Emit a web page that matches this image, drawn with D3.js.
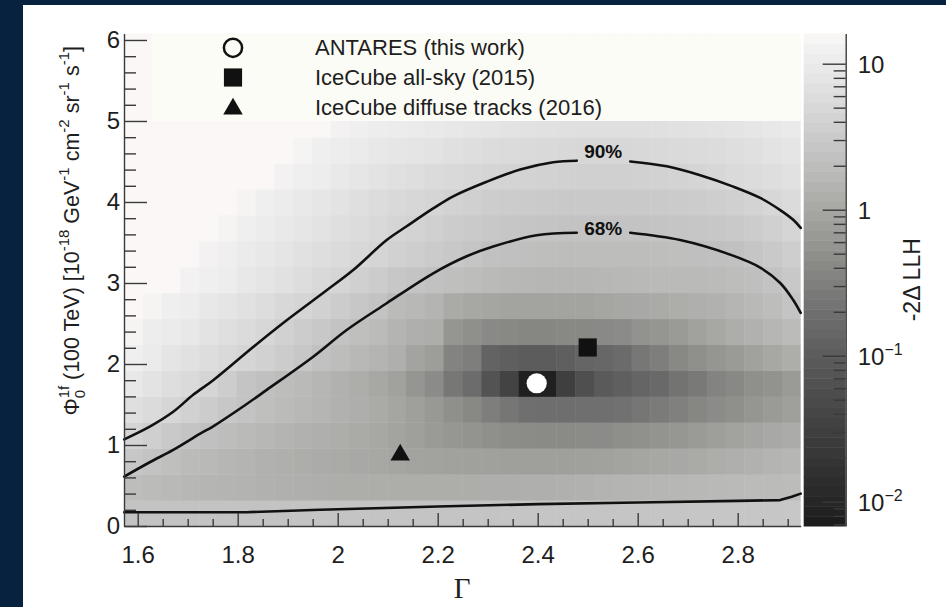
<!DOCTYPE html>
<html>
<head>
<meta charset="utf-8">
<script src="https://cdn.jsdelivr.net/npm/d3@7"></script>
<style>
  body { margin: 0; background: #06223f; }
  svg { display: block; }
</style>
</head>
<body>
<div id="chart"></div>
<script>
// -2ΔLLH scan over spectral index (Γ) and flux normalisation at 100 TeV

const GAMMA_RANGE = [1.5726, 2.926]
const FLUX_RANGE = [0, 6.08]
const GAMMA_BINS = 36
const FLUX_BIN = 0.32

// one row per flux bin (bottom row first), one value per Γ bin
const LLH = [
  [2.4,2.4,2.4,2.4,2.4,2.4,2.4,2.45,2.45,2.45,2.5,2.5,2.5,2.5,2.5,2.5,2.55,2.55,2.55,2.55,2.6,2.6,2.6,2.6,2.6,2.6,2.65,2.65,2.65,2.65,2.7,2.7,2.7,2.75,2.75,2.8],
  [2.0,1.85,1.75,1.65,1.55,1.5,1.45,1.4,1.35,1.3,1.25,1.2,1.2,1.2,1.2,1.2,1.2,1.2,1.2,1.25,1.25,1.3,1.3,1.35,1.4,1.45,1.5,1.55,1.6,1.65,1.7,1.75,1.8,1.85,1.9,1.95],
  [2.8,2.4,2.1,1.9,1.75,1.6,1.5,1.4,1.3,1.2,1.15,1.1,1.05,1.0,0.95,0.9,0.88,0.85,0.83,0.82,0.8,0.8,0.8,0.8,0.82,0.85,0.9,0.95,1.0,1.05,1.1,1.2,1.3,1.4,1.5,1.6],
  [4.4,3.7,3.0,2.5,2.2,2.0,1.8,1.65,1.5,1.4,1.3,1.2,1.1,1.0,0.9,0.8,0.7,0.62,0.56,0.5,0.46,0.44,0.43,0.43,0.44,0.45,0.48,0.52,0.57,0.62,0.7,0.78,0.86,0.95,1.05,1.15],
  [6.5,5.5,4.7,4.0,3.4,2.8,2.4,2.1,1.9,1.7,1.55,1.4,1.25,1.1,0.95,0.8,0.65,0.5,0.4,0.3,0.24,0.2,0.19,0.19,0.2,0.2,0.21,0.24,0.28,0.32,0.38,0.45,0.5,0.6,0.7,0.8],
  [9,7.5,6.2,5.3,4.6,3.5,2.5,2.2,2.0,1.8,1.6,1.4,1.2,1.0,0.85,0.6,0.45,0.25,0.18,0.07,0.035,0.008,0.008,0.03,0.06,0.09,0.11,0.14,0.16,0.22,0.26,0.35,0.4,0.5,0.55,0.7],
  [12,10,8,7,6,5.2,4.6,4.0,3.4,2.8,2.3,2.0,1.7,1.5,1.3,0.9,0.75,0.35,0.3,0.13,0.11,0.1,0.1,0.11,0.14,0.15,0.17,0.25,0.3,0.4,0.5,0.6,0.7,0.85,1.0,1.2],
  [14,11,10,9,7.5,6.5,5.5,4.8,4.0,3.4,2.9,2.4,2.1,1.9,1.5,1.3,1.2,0.6,0.5,0.42,0.4,0.38,0.38,0.4,0.4,0.42,0.45,0.55,0.6,0.7,0.85,1.0,1.2,1.4,1.6,1.9],
  [16,14,12,11,9,8,7,6,5,4.5,4,3.3,2.8,2.4,1.9,1.7,1.5,1.1,1.0,0.95,0.9,0.9,0.9,0.9,0.9,0.95,1.0,1.05,1.1,1.2,1.3,1.4,1.55,1.75,2.0,2.5],
  [20,18,16,13,12,11,9,8,7,6,5.2,4.5,3.8,3.3,2.8,2.5,2.3,2.1,2.0,1.8,1.7,1.65,1.6,1.6,1.6,1.65,1.7,1.75,1.8,1.8,1.8,1.9,2.0,2.15,2.4,2.9],
  [20,20,18,16,13,12,10,9,8,7,6.2,5.5,5.0,4.6,4.0,3.6,3.2,2.9,2.6,2.3,2.2,2.1,2.05,2.0,2.0,2.0,2.0,2.0,2.05,2.1,2.15,2.2,2.3,2.6,3.0,3.6],
  [20,20,20,18,16,14,12,10.5,9.5,8.5,7.5,6.5,5.8,5.2,4.6,4.2,3.8,3.4,3.1,2.9,2.7,2.6,2.5,2.45,2.4,2.4,2.4,2.45,2.5,2.6,2.7,2.8,3.0,3.3,3.8,4.6],
  [20,20,20,20,18,16,14,12,10.5,9.5,8.5,7.5,6.5,5.8,5.2,4.8,4.5,4.1,3.8,3.5,3.3,3.2,3.1,3.0,3.0,3.0,3.0,3.0,3.1,3.2,3.4,3.6,3.9,4.3,4.8,5.5],
  [20,20,20,20,20,18,17,16,13,12,11,9.5,8.5,7.5,6.8,6.2,5.6,5.2,4.9,4.6,4.4,4.2,4.1,4.0,3.9,3.9,3.9,4.0,4.1,4.3,4.6,4.9,5.3,5.8,6.3,7],
  [20,20,20,20,20,20,19,18,17,14,12,11,10,9,8.5,8,7.4,6.8,6.3,5.9,5.6,5.3,5.1,5.0,4.9,4.9,4.9,5.0,5.1,5.3,5.6,5.9,6.3,6.8,7.4,8],
  [20,20,20,20,20,20,20,20,20,18,16,13,12,11,10.5,10,9.5,9,8.5,8,7.5,7.2,7,6.8,6.6,6.5,6.5,6.6,6.7,6.9,7.2,7.5,7.9,8.4,9,9.6],
  [20,20,20,20,20,20,20,20,20,20,20,20,20,20,20,16,15,14,13,12,11.5,11,10.5,10,10,9.6,9.5,9.6,9.7,10,10.3,10.7,11,11.5,12,13],
  [20,20,20,20,20,20,20,20,20,20,20,20,20,20,20,20,20,17,16,15,14,13.5,13,12.6,12.3,12.2,12.2,12.3,12.5,12.8,13.2,13.6,14,14.5,15.5,16],
  [20,20,20,20,20,20,20,20,20,20,20,20,20,20,20,20,20,20,20,18,17,16.5,16,15.5,15.3,15.1,15,15,15.1,15.3,15.6,16,16.5,17,18,19]
]

// contour lines as [Γ, Φ] points (gaps left for the labels)
const CONTOUR_90_LEFT = [[1.573,1.07],[1.625,1.23],[1.671,1.41],[1.711,1.62],[1.751,1.8],[1.831,2.21],[1.898,2.54],[1.978,2.91],[2.031,3.16],[2.098,3.53],[2.138,3.7],[2.191,3.92],[2.231,4.07],[2.298,4.25],[2.365,4.4],[2.431,4.49],[2.478,4.51]]
const CONTOUR_90_RIGHT = [[2.585,4.5],[2.658,4.44],[2.725,4.33],[2.791,4.19],[2.845,4.05],[2.885,3.9],[2.911,3.78],[2.926,3.68]]
const CONTOUR_68_LEFT = [[1.573,0.61],[1.625,0.79],[1.671,0.94],[1.725,1.14],[1.751,1.23],[1.805,1.45],[1.858,1.68],[1.951,2.09],[2.018,2.42],[2.098,2.75],[2.191,3.12],[2.258,3.33],[2.311,3.45],[2.398,3.59],[2.478,3.62]]
const CONTOUR_68_RIGHT = [[2.585,3.62],[2.685,3.53],[2.785,3.35],[2.845,3.19],[2.885,3.0],[2.911,2.79],[2.926,2.63]]
const CONTOUR_68_LOWER = [[1.573,0.17],[1.817,0.17],[1.965,0.2],[2.2,0.24],[2.4,0.27],[2.6,0.29],[2.8,0.31],[2.885,0.32],[2.908,0.36],[2.926,0.4]]

const CONTOUR_LABELS = ["90%", "68%"]
const CONTOUR_LABEL_POS = [[2.531, 4.62], [2.531, 3.67]]

const POINT_NAMES = ["ANTARES (this work)", "IceCube all-sky (2015)", "IceCube diffuse tracks (2016)"]
const POINT_GAMMA = [2.398, 2.5, 2.125]
const POINT_FLUX = [1.762, 2.204, 0.877]

const X_TICKS = [1.6, 1.8, 2, 2.2, 2.4, 2.6, 2.8]
const Y_TICKS = [0, 1, 2, 3, 4, 5, 6]
const Z_RANGE = [0.00682, 16.1]
const Z_TICKS = [0.01, 0.1, 1, 10]
const Z_TICK_BASE = ["10", "10", "1", "10"]
const Z_TICK_EXP = ["\u22122", "\u22121", "", ""]

// grey palette (value -> colour)
const PALETTE_STOPS = [0.0068, 0.01, 0.03, 0.06, 0.11, 0.2, 0.3, 0.5, 0.8, 1.0, 1.3, 1.7, 2.2, 3, 4, 5, 7, 9, 12, 16.1]
const PALETTE_COLORS = ["#1b1b1b", "#262626", "#3f3f3f", "#4f4f4f", "#5f5f5f", "#6f6f6f", "#7e7f7c", "#8f908c", "#9fa09c", "#a7a8a4",
  "#afb0ad", "#b8b8b6", "#c0c0c0", "#c9c9c9", "#d1d1d1", "#d8d8d8", "#e1e1e1", "#e8e8e8", "#f0efef", "#fbf7f7"]

const FONT = "'Liberation Sans', Arial, Helvetica, sans-serif"
const INK = "#1e1e1e"
const AXIS = "#3a3a3a"

const W = 946, H = 607
const frame = { left: 124, right: 800.7, top: 33.5, bottom: 526 }
const bar = { left: 803.7, right: 845.7 }

const svg = d3.select("#chart").append("svg")
  .attr("width", W).attr("height", H)
  .attr("font-family", FONT)

svg.append("rect").attr("width", W).attr("height", H).attr("fill", "#06223f")
svg.append("rect").attr("x", 23).attr("y", 5).attr("width", W - 23).attr("height", H - 5).attr("fill", "#ffffff")

const x = d3.scaleLinear().domain(GAMMA_RANGE).range([frame.left, frame.right])
const y = d3.scaleLinear().domain(FLUX_RANGE).range([frame.bottom, frame.top])
const color = d3.scaleLog().domain(PALETTE_STOPS).range(PALETTE_COLORS)
  .interpolate(d3.interpolateRgb).clamp(true)

// Heatmap cells
const binW = (GAMMA_RANGE[1] - GAMMA_RANGE[0]) / GAMMA_BINS
const cells = LLH.flatMap((row, r) => row.map((v, c) => ({ r, c, v })))

svg.append("g")
  .selectAll("rect")
  .data(cells)
  .join("rect")
  .attr("x", d => x(GAMMA_RANGE[0] + d.c * binW))
  .attr("y", d => y(Math.min((d.r + 1) * FLUX_BIN, FLUX_RANGE[1])))
  .attr("width", d => x(GAMMA_RANGE[0] + (d.c + 1) * binW) - x(GAMMA_RANGE[0] + d.c * binW) + (d.c < GAMMA_BINS - 1 ? 0.5 : 0))
  .attr("height", d => y(d.r * FLUX_BIN) - y(Math.min((d.r + 1) * FLUX_BIN, FLUX_RANGE[1])) + (d.r > 0 ? 0.5 : 0))
  .attr("fill", d => color(d.v))

// Legend box (covers the top of the map)
svg.append("rect")
  .attr("x", 152).attr("y", frame.top)
  .attr("width", frame.right - 152).attr("height", y(5) - frame.top)
  .attr("fill", "#fcfcf6")

// Contours
const smooth = d3.line().x(d => x(d[0])).y(d => y(d[1])).curve(d3.curveCatmullRom.alpha(0.5))
const straight = d3.line().x(d => x(d[0])).y(d => y(d[1]))

const contours = svg.append("g").attr("fill", "none").attr("stroke", "#111").attr("stroke-width", 2.6)
  .attr("stroke-linejoin", "round").attr("stroke-linecap", "round")
;[CONTOUR_90_LEFT, CONTOUR_90_RIGHT, CONTOUR_68_LEFT, CONTOUR_68_RIGHT].forEach(pts => {
  contours.append("path").attr("d", smooth(pts))
})
contours.append("path").attr("d", straight(CONTOUR_68_LOWER))

CONTOUR_LABELS.forEach((label, i) => {
  svg.append("text")
    .attr("x", x(CONTOUR_LABEL_POS[i][0]))
    .attr("y", y(CONTOUR_LABEL_POS[i][1]))
    .attr("text-anchor", "middle")
    .attr("dominant-baseline", "central")
    .attr("font-size", 19)
    .attr("font-weight", "bold")
    .attr("fill", "#111")
    .text(label)
})

// Markers
const SHAPES = [d3.symbolCircle, d3.symbolSquare, d3.symbolTriangle]
const SIZES = [320, 330, 165]

POINT_NAMES.forEach((name, i) => {
  svg.append("path")
    .attr("transform", `translate(${x(POINT_GAMMA[i])},${y(POINT_FLUX[i])})`)
    .attr("d", d3.symbol(SHAPES[i], SIZES[i])())
    .attr("fill", i === 0 ? "#ffffff" : "#111")
    .append("title").text(name)
})

// Legend entries
const legendY = [47.8, 77.5, 107.4]
POINT_NAMES.forEach((name, i) => {
  svg.append("path")
    .attr("transform", `translate(233,${legendY[i] + (i === 2 ? 1.5 : 0)})`)
    .attr("d", d3.symbol(SHAPES[i], i === 0 ? 260 : SIZES[i])())
    .attr("fill", i === 0 ? "none" : "#111")
    .attr("stroke", i === 0 ? "#111" : "none")
    .attr("stroke-width", 2.5)
  svg.append("text")
    .attr("x", 315).attr("y", legendY[i])
    .attr("dominant-baseline", "central")
    .attr("font-size", 22)
    .attr("fill", INK)
    .text(name)
})

// X axis
const xAxis = svg.append("g")
  .attr("transform", `translate(0,${frame.bottom})`)
  .call(d3.axisBottom(x).tickValues(X_TICKS).tickSizeInner(-13).tickSizeOuter(0).tickPadding(20)
    .tickFormat(d3.format("~g")))
xAxis.selectAll("text").attr("font-size", 24).attr("fill", INK).attr("font-family", FONT)

const xMinor = d3.range(32, 59).filter(i => i % 4 !== 0).map(i => i * 0.05)
svg.append("g")
  .attr("transform", `translate(0,${frame.bottom})`)
  .call(d3.axisBottom(x).tickValues(xMinor).tickSizeInner(-7).tickSizeOuter(0).tickFormat(""))
  .call(g => g.select(".domain").remove())

// Y axis
const yAxis = svg.append("g")
  .attr("transform", `translate(${frame.left},0)`)
  .call(d3.axisLeft(y).tickValues(Y_TICKS).tickSizeInner(-23).tickSizeOuter(0).tickPadding(4)
    .tickFormat(d3.format("d")))
yAxis.selectAll("text").attr("font-size", 24).attr("fill", INK).attr("font-family", FONT)

const yMinor = d3.range(0, 31).filter(i => i % 5 !== 0).map(i => i * 0.2)
svg.append("g")
  .attr("transform", `translate(${frame.left},0)`)
  .call(d3.axisLeft(y).tickValues(yMinor).tickSizeInner(-12).tickSizeOuter(0).tickFormat(""))
  .call(g => g.select(".domain").remove())

// Colour bar
const z = d3.scaleLog().domain(Z_RANGE).range([frame.bottom, frame.top])
const bandCount = 50
const bandEdges = d3.range(bandCount + 1).map(i => frame.bottom - i * (frame.bottom - frame.top) / bandCount)

svg.append("g")
  .selectAll("rect")
  .data(d3.range(bandCount))
  .join("rect")
  .attr("x", bar.left)
  .attr("y", i => bandEdges[i + 1])
  .attr("width", bar.right - bar.left)
  .attr("height", i => bandEdges[i] - bandEdges[i + 1] + 0.5)
  .attr("fill", i => color(z.invert((bandEdges[i] + bandEdges[i + 1]) / 2)))

const zAxis = svg.append("g")
  .attr("transform", `translate(${bar.right},0)`)
  .call(d3.axisRight(z).tickValues(Z_TICKS).tickSizeInner(-23).tickSizeOuter(0).tickPadding(12).tickFormat(""))

zAxis.selectAll(".tick text").each(function (d) {
  const i = Z_TICKS.indexOf(d)
  const t = d3.select(this).attr("font-size", 24).attr("fill", INK).attr("font-family", FONT)
    .attr("dy", "0.36em").attr("text-anchor", "start")
  t.append("tspan").text(Z_TICK_BASE[i])
  if (Z_TICK_EXP[i]) {
    t.append("tspan").attr("dy", -10).attr("font-size", 16).text(Z_TICK_EXP[i])
  }
})

const zMinor = z.ticks().filter(v => !Z_TICKS.some(t => Math.abs(t - v) / t < 1e-6))
svg.append("g")
  .attr("transform", `translate(${bar.right},0)`)
  .call(d3.axisRight(z).tickValues(zMinor).tickSizeInner(-12).tickSizeOuter(0).tickFormat(""))
  .call(g => g.select(".domain").remove())

svg.selectAll(".domain, .tick line").attr("stroke", AXIS).attr("stroke-width", 1.4)

// Titles
svg.append("text")
  .attr("transform", `translate(462,598)`)
  .attr("text-anchor", "middle")
  .attr("font-family", "'Liberation Serif', 'Times New Roman', serif")
  .attr("font-size", 29)
  .attr("fill", INK)
  .text("\u0393")

const yTitle = svg.append("text")
  .attr("transform", "translate(79,46) rotate(-90)")
  .attr("text-anchor", "end")
  .attr("font-size", 21.5)
  .attr("fill", INK)
yTitle.append("tspan").text("\u03A6")
yTitle.append("tspan").attr("dy", -10).attr("font-size", 15).text("1f")
yTitle.append("tspan").attr("dx", -12.5).attr("dy", 16).attr("font-size", 15).text("0")
yTitle.append("tspan").attr("dx", 4).attr("dy", -6).text(" (100 TeV) [10")
yTitle.append("tspan").attr("dy", -10).attr("font-size", 15).text("-18")
yTitle.append("tspan").attr("dy", 10).text(" GeV")
yTitle.append("tspan").attr("dy", -10).attr("font-size", 15).text("-1")
yTitle.append("tspan").attr("dy", 10).text(" cm")
yTitle.append("tspan").attr("dy", -10).attr("font-size", 15).text("-2")
yTitle.append("tspan").attr("dy", 10).text(" sr")
yTitle.append("tspan").attr("dy", -10).attr("font-size", 15).text("-1")
yTitle.append("tspan").attr("dy", 10).text(" s")
yTitle.append("tspan").attr("dy", -10).attr("font-size", 15).text("-1")
yTitle.append("tspan").attr("dy", 10).text("]")

svg.append("text")
  .attr("transform", `translate(920,${(frame.top + frame.bottom) / 2}) rotate(-90)`)
  .attr("text-anchor", "middle")
  .attr("font-size", 23)
  .attr("fill", INK)
  .text("-2\u0394 LLH")
</script>
</body>
</html>
